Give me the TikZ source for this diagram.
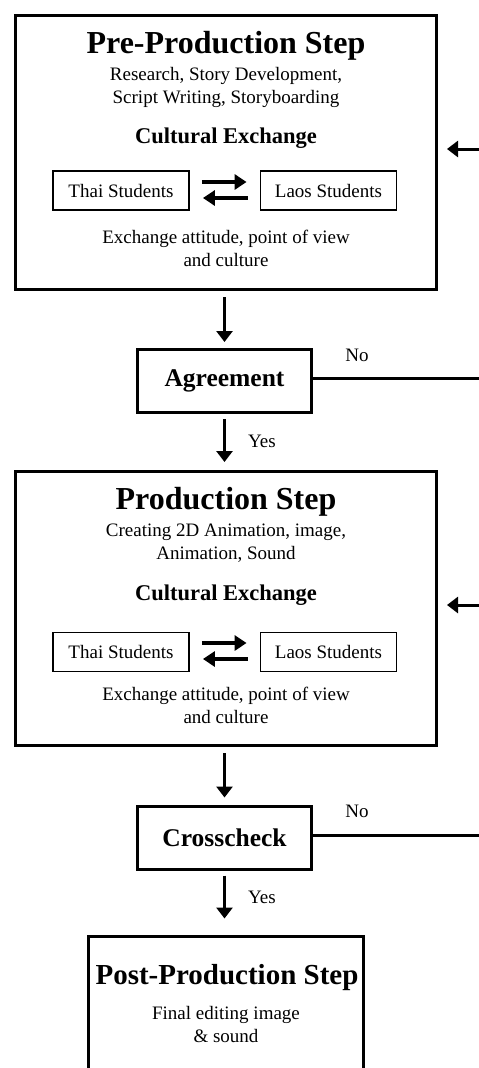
\documentclass[tikz,border=0pt]{standalone}
\usepackage{fontspec}
\setmainfont{Liberation Serif}
\usetikzlibrary{arrows.meta}
\begin{document}
\begin{tikzpicture}[x=1pt,y=-1pt,
  bigbox/.style={draw,line width=3pt,minimum width=421pt,minimum height=274pt,inner sep=0pt},
  decbox/.style={draw,line width=3pt,minimum width=174pt,minimum height=63pt,inner sep=0pt,
    font=\fontsize{25.5}{30}\selectfont\bfseries},
  stubox/.style={draw,line width=1.8pt,minimum width=136pt,minimum height=39pt,inner sep=0pt,
    font=\fontsize{19}{23}\selectfont},
  titletext/.style={inner sep=0pt,font=\fontsize{32}{36}\selectfont\bfseries},
  subtext/.style={inner sep=0pt,align=center,font=\fontsize{19}{23}\selectfont},
  cultext/.style={inner sep=0pt,font=\fontsize{22.5}{26}\selectfont\bfseries},
  lbl/.style={inner sep=0pt,font=\fontsize{19}{23}\selectfont},
  flow/.style={line width=3pt,-{Triangle[length=11pt,width=16pt]}},
  xarrow/.style={line width=3.5pt,-{Triangle[length=12pt,width=15pt]}},
  fbline/.style={line width=3pt}
]
\clip (0,0) rectangle (479,1068);

% Pre-production
\node[bigbox] (pre) at (226,152.5) {};
\node[titletext] (pretitle) at (226,46) {Pre-Production Step};
\node[subtext] (presub) at (226,87.5) {Research, Story Development,\\Script Writing, Storyboarding};
\node[cultext] (precul) at (226,138) {Cultural Exchange};
\node[stubox] (thai1) at (121,190.5) {Thai Students};
\node[stubox] (laos1) at (328.5,190.5) {Laos Students};
\node[subtext] (preex) at (226,248.5) {Exchange attitude, point of view\\and culture};
\draw[xarrow,shorten <=12pt,shorten >=13pt] (thai1.east |- 0,182) -- (laos1.west |- 0,182);
\draw[xarrow,shorten <=12pt,shorten >=13pt] (laos1.west |- 0,198) -- (thai1.east |- 0,198);

% Agreement
\node[decbox] (agree) at (224.5,381) {Agreement};
\draw[flow,shorten <=6pt,shorten >=6pt] (pre.south -| agree) -- (agree.north);
\coordinate (fb1end) at (479,378);
\draw[fbline] (agree.east |- fb1end) -- (fb1end);
\node[lbl] (no1) at (357,355) {No};
\coordinate (fb1in) at (479,149);
\draw[flow,shorten >=9pt] (fb1in) -- (pre.east |- fb1in);

% Production
\node[bigbox] (prod) at (226,608.5) {};
\draw[flow,shorten <=5pt,shorten >=8pt] (agree.south) -- (prod.north -| agree);
\node[lbl] (yes1) at (262,441) {Yes};
\node[titletext] (prodtitle) at (226,502) {Production Step};
\node[subtext] (prodsub) at (226,543.5) {Creating 2D Animation, image,\\Animation, Sound};
\node[cultext] (prodcul) at (226,595) {Cultural Exchange};
\node[stubox] (thai2) at (121,652) {Thai Students};
\node[stubox] (laos2) at (328.5,652) {Laos Students};
\node[subtext] (prodex) at (226,705.5) {Exchange attitude, point of view\\and culture};
\draw[xarrow,shorten <=12pt,shorten >=13pt] (thai2.east |- 0,643) -- (laos2.west |- 0,643);
\draw[xarrow,shorten <=12pt,shorten >=13pt] (laos2.west |- 0,659) -- (thai2.east |- 0,659);
\coordinate (fb2in) at (479,605);
\draw[flow,shorten >=9pt] (fb2in) -- (prod.east |- fb2in);

% Crosscheck
\node[decbox] (cross) at (224.5,837.5) {Crosscheck};
\draw[flow,shorten <=6pt,shorten >=7pt] (prod.south -| cross) -- (cross.north);
\coordinate (fb2end) at (479,835);
\draw[fbline] (cross.east |- fb2end) -- (fb2end);
\node[lbl] (no2) at (357,811) {No};

% Post-production
\node[draw,line width=3pt,minimum width=275pt,minimum height=240pt,inner sep=0pt] (post) at (226,1056) {};
\draw[flow,shorten <=5pt,shorten >=16pt] (cross.south) -- (post.north -| cross);
\node[lbl] (yes2) at (262,897) {Yes};
\node[inner sep=0pt,font=\fontsize{29}{33}\selectfont\bfseries] (posttitle) at (227,978) {Post-Production Step};
\node[subtext] (postsub) at (226,1024) {Final editing image\\\& sound};
\end{tikzpicture}
\end{document}
